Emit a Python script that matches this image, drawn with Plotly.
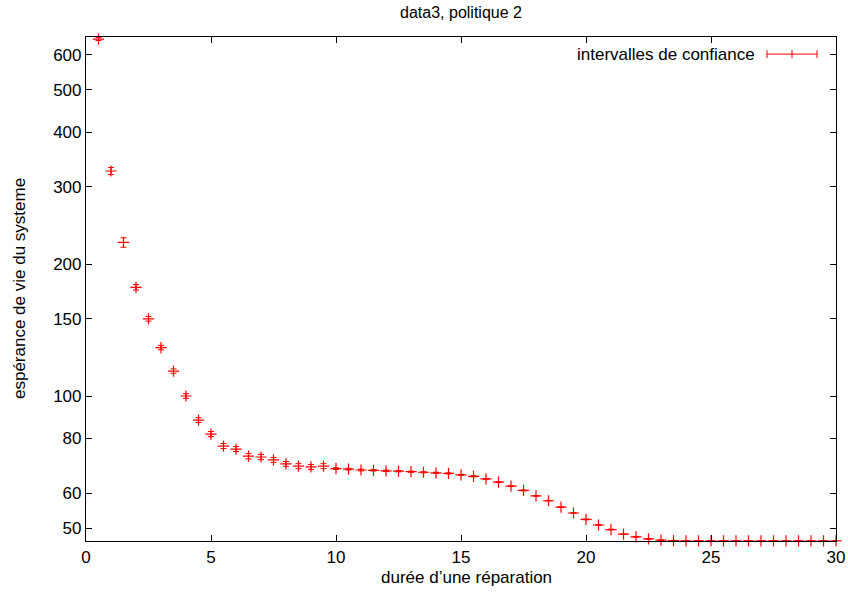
import plotly.graph_objects as go
import math

duree = [0.5, 1.0, 1.5, 2.0, 2.5, 3.0, 3.5, 4.0, 4.5, 5.0,
         5.5, 6.0, 6.5, 7.0, 7.5, 8.0, 8.5, 9.0, 9.5, 10.0,
         10.5, 11.0, 11.5, 12.0, 12.5, 13.0, 13.5, 14.0, 14.5, 15.0,
         15.5, 16.0, 16.5, 17.0, 17.5, 18.0, 18.5, 19.0, 19.5, 20.0,
         20.5, 21.0, 21.5, 22.0, 22.5, 23.0, 23.5, 24.0, 24.5, 25.0,
         25.5, 26.0, 26.5, 27.0, 27.5, 28.0, 28.5, 29.0, 29.5, 30.0]
esperance = [652, 326, 224, 177, 150, 129, 114, 100, 88.1, 81.9,
             76.9, 75.7, 72.9, 72.6, 71.5, 70.0, 69.2, 68.9, 69.2, 68.3,
             68.1, 67.8, 67.7, 67.5, 67.4, 67.2, 67.0, 66.8, 66.6, 66.1,
             65.6, 64.7, 63.6, 62.3, 60.9, 59.2, 57.7, 55.8, 54.1, 52.3,
             50.8, 49.6, 48.4, 47.7, 47.2, 46.9, 46.8, 46.75, 46.75, 46.75,
             46.75, 46.75, 46.75, 46.75, 46.75, 46.75, 46.75, 46.75, 46.75, 46.75]
erreur = [5, 6, 5.5, 2.5, 1.8, 1.5, 1.3, 1.2, 1.1, 1.1,
          1.0, 1.0, 1.0, 1.0, 0.9, 0.9, 0.9, 0.9, 0.9, 0.3,
          0.3, 0.3, 0.25, 0.25, 0.25, 0.2, 0.2, 0.2, 0.2, 0.2,
          0.2, 0.15, 0.15, 0.15, 0.15, 0.1, 0.1, 0.1, 0.1, 0.1,
          0.1, 0.1, 0.05, 0.05, 0.05, 0.05, 0.05, 0.05, 0.05, 0.05,
          0.05, 0.05, 0.05, 0.05, 0.05, 0.05, 0.05, 0.05, 0.05, 0.05]
y_ticks = [50, 60, 80, 100, 150, 200, 300, 400, 500, 600]
x_ticks = [0, 5, 10, 15, 20, 25, 30]

RED = "#ff0000"
FONT = "Liberation Sans, Arial, Helvetica, sans-serif"
FS = 17

fig = go.Figure()
fig.add_trace(go.Scatter(
    x=duree, y=esperance, mode="markers",
    name="intervalles de confiance",
    marker=dict(symbol="cross-thin-open", size=8, color=RED,
                line=dict(color=RED, width=1.2)),
    error_y=dict(type="data", array=erreur, visible=True,
                 color=RED, thickness=1, width=3),
    cliponaxis=False, showlegend=False,
))

axis_common = dict(showline=True, linecolor="black", linewidth=1.2,
                   mirror="ticks", ticks="inside", ticklen=6,
                   tickcolor="black", tickwidth=1, showgrid=False,
                   zeroline=False, automargin=False,
                   tickfont=dict(size=FS, color="black"))

fig.update_layout(
    width=848, height=597,
    margin=dict(l=86, r=12, t=37, b=56),
    paper_bgcolor="white", plot_bgcolor="white",
    font=dict(family=FONT, size=FS, color="black"),
    title=dict(text="data3, politique 2", x=461 / 848, xanchor="center",
               y=1 - 12 / 597, yanchor="middle", font=dict(size=FS - 1)),
    xaxis=dict(range=[0, 30], tickvals=x_ticks, **axis_common),
    yaxis=dict(type="log", range=[math.log10(46.7), math.log10(659)],
               tickvals=y_ticks, ticktext=[str(v) for v in y_ticks],
               **axis_common),
)

# axis titles
fig.add_annotation(xref="paper", yref="paper", x=0.5067, y=-0.0734,
                   text="durée d’une réparation", showarrow=False,
                   xanchor="center", yanchor="middle",
                   font=dict(size=FS, color="black"))
fig.add_annotation(xref="paper", yref="paper", x=-0.0893, y=0.5,
                   text="espérance de vie du systeme", showarrow=False,
                   textangle=-90, xanchor="center", yanchor="middle",
                   font=dict(size=FS, color="black"))

# legend drawn gnuplot-style: text then error-bar sample on the right
fig.add_annotation(xref="paper", yref="paper", x=0.8947, y=0.966,
                   text="intervalles de confiance", showarrow=False,
                   xanchor="right", yanchor="middle",
                   font=dict(size=FS, color="black"))
lx0, lx1, ly = 0.908, 0.9747, 0.966
fig.add_shape(type="line", xref="paper", yref="paper", x0=lx0, x1=lx1,
              y0=ly, y1=ly, line=dict(color=RED, width=1))
for xx in (lx0, lx1, (lx0 + lx1) / 2):
    fig.add_shape(type="line", xref="paper", yref="paper", x0=xx, x1=xx,
                  y0=ly - 0.008, y1=ly + 0.008, line=dict(color=RED, width=1))

fig.write_html("out.html")
